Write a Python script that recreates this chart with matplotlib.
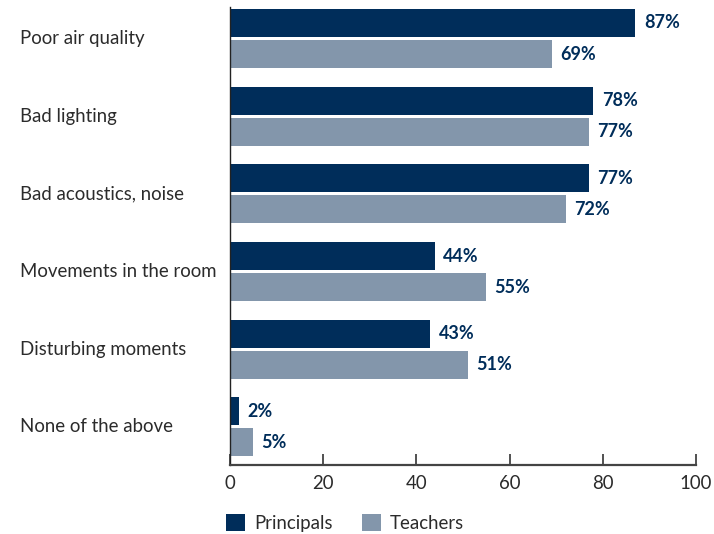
import matplotlib.pyplot as plt
import numpy as np

categories = ["Poor air quality", "Bad lighting", "Bad acoustics, noise",
              "Movements in the room", "Disturbing moments", "None of the above"]
principals = [87, 78, 77, 44, 43, 2]
teachers = [69, 77, 72, 55, 51, 5]
series_names = ["Principals", "Teachers"]
xticks = [0, 20, 40, 60, 80, 100]

navy = "#002d5a"
grey = "#8396ab"
text_col = "#2b2b2b"

plt.rcParams['font.family'] = ['Lato', 'DejaVu Sans']

fig = plt.figure(figsize=(7.14, 5.34), dpi=100)
ax = fig.add_axes([230 / 714, 1 - 465 / 534, 466 / 714, 458 / 534])

y = np.arange(len(categories))
h = 0.36
off = 0.2
bp = ax.barh(y - off, principals, height=h, color=navy, label=series_names[0])
bt = ax.barh(y + off, teachers, height=h, color=grey, label=series_names[1])

for yi, v in zip(y - off, principals):
    ax.annotate(f"{v}%", (v, yi), xytext=(6, 0), textcoords="offset points",
                va="center", ha="left", fontsize=13, fontweight="bold", color=navy)
for yi, v in zip(y + off, teachers):
    ax.annotate(f"{v}%", (v, yi), xytext=(6, 0), textcoords="offset points",
                va="center", ha="left", fontsize=13, fontweight="bold", color=navy)

ax.set_xlim(0, 100)
ax.set_ylim(5.49, -0.405)
ax.set_xticks(xticks)
ax.set_xticklabels([str(t) for t in xticks], fontsize=13.4, color=text_col)
ax.tick_params(axis="x", direction="in", length=8, width=1.2, color="#333333", pad=7)
ax.set_yticks([])

label_tf = ax.get_yaxis_transform().__class__(fig.transFigure, ax.transData)
for i, c in enumerate(categories):
    ax.text(20 / 714, i, c, transform=label_tf,
            ha="left", va="center", fontsize=13.4, color=text_col)

for s in ["top", "right"]:
    ax.spines[s].set_visible(False)
ax.spines["left"].set_color("#222222")
ax.spines["left"].set_linewidth(1.0)
ax.spines["bottom"].set_color("#444444")
ax.spines["bottom"].set_linewidth(1.6)

fig.legend(handles=[bp, bt], labels=series_names, loc="lower left",
           bbox_to_anchor=(226 / 714, 2 / 534), borderaxespad=0, borderpad=0,
           ncol=2, frameon=False,
           fontsize=13.4, handlelength=1.0, handleheight=1.0, handletextpad=0.5,
           columnspacing=1.6, labelcolor=text_col)

fig.savefig("out.png", dpi=100)
